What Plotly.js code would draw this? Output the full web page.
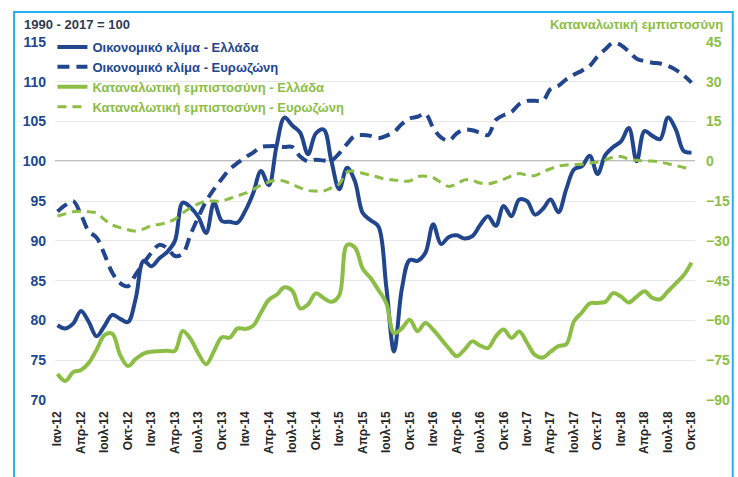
<!DOCTYPE html>
<html>
<head>
<meta charset="utf-8">
<script src="https://cdn.plot.ly/plotly-3.0.1.min.js"></script>
<style>
html,body{margin:0;padding:0;background:#fff;}
#chart{width:738px;height:477px;}
</style>
</head>
<body>
<div id="chart"></div>
<script>
// Monthly data Jan 2012 .. Oct 2018 (82 months)
const monthIndex = Array.from({length: 82}, (_, i) => i);

const tickPositions = [0,3,6,9,12,15,18,21,24,27,30,33,36,39,42,45,48,51,54,57,60,63,66,69,72,75,78,81];
const tickLabels = ['Ιαν-12','Απρ-12','Ιουλ-12','Οκτ-12','Ιαν-13','Απρ-13','Ιουλ-13','Οκτ-13',
  'Ιαν-14','Απρ-14','Ιουλ-14','Οκτ-14','Ιαν-15','Απρ-15','Ιουλ-15','Οκτ-15',
  'Ιαν-16','Απρ-16','Ιουλ-16','Οκτ-16','Ιαν-17','Απρ-17','Ιουλ-17','Οκτ-17',
  'Ιαν-18','Απρ-18','Ιουλ-18','Οκτ-18'];

// Economic sentiment - Greece (left axis)
const esiGreece = [79.4,79.0,79.6,81.2,79.8,78.0,79.3,80.7,80.2,79.8,
  82.8,87.5,86.8,87.8,88.6,90.0,94.8,94.2,93.0,91.0,
  94.8,92.5,92.4,92.3,93.8,96.0,98.8,97.0,102.0,105.5,
  104.5,103.6,100.9,103.5,104.0,100.0,96.5,99.2,97.5,93.5,
  92.6,91.8,84.3,76.1,84.0,87.6,87.5,88.5,92.1,89.6,
  90.5,90.7,90.3,90.6,92.0,93.1,91.9,94.4,93.1,95.2,
  95.0,93.3,94.0,95.2,93.6,96.5,99.0,99.4,100.7,98.4,
  100.8,101.8,102.5,104.2,100.0,103.8,103.2,102.8,105.5,104.0,
  101.3,101.1];

// Economic sentiment - Eurozone (left axis)
const esiEurozone = [93.7,94.5,95.0,93.3,91.2,90.4,88.3,86.0,84.7,84.3,
  85.8,87.2,88.5,89.5,89.1,88.1,88.4,90.8,93.0,95.0,
  96.5,97.8,99.0,99.8,100.5,101.1,101.8,101.9,101.9,101.8,
  101.8,100.6,100.0,100.2,100.1,100.1,101.0,102.2,103.2,103.3,
  103.2,102.9,103.2,103.7,104.7,105.4,105.6,106.0,104.2,103.0,
  102.6,103.5,104.0,103.9,103.6,103.3,105.2,105.8,106.2,107.2,
  107.6,107.6,107.6,109.1,109.5,110.3,110.9,111.4,112.0,113.2,
  114.1,114.9,114.6,113.8,112.9,112.6,112.4,112.3,112.0,111.5,
  110.8,109.9];

// Consumer confidence - Greece (right axis)
const cciGreece = [-80.2,-82.8,-79.5,-78.7,-76.0,-71.0,-65.5,-65.0,-73.0,-77.2,
  -74.5,-72.5,-71.8,-71.6,-71.4,-71.5,-64.0,-67.0,-72.5,-76.5,
  -71.5,-66.3,-66.5,-63.0,-63.2,-62.0,-57.0,-52.2,-50.3,-47.5,
  -48.8,-55.5,-54.0,-49.8,-51.5,-53.0,-50.5,-31.5,-32.5,-40.5,
  -44.0,-48.5,-53.4,-64.8,-63.0,-59.7,-64.0,-61.0,-63.5,-67.0,
  -70.5,-73.5,-71.0,-67.9,-69.5,-70.4,-66.0,-63.4,-66.6,-64.2,
  -68.5,-73.0,-74.0,-71.8,-69.7,-69.0,-60.3,-57.0,-53.6,-53.4,
  -53.0,-49.7,-51.0,-53.2,-51.0,-49.0,-51.5,-52.0,-49.0,-46.0,
  -43.0,-38.2];

// Consumer confidence - Eurozone (right axis)
const cciEurozone = [-20.6,-19.8,-19.0,-18.8,-19.0,-19.5,-22.0,-24.0,-25.0,-25.8,
  -26.3,-25.5,-24.2,-23.8,-23.0,-21.8,-19.5,-17.5,-16.0,-15.0,
  -15.0,-15.0,-14.0,-13.0,-12.0,-10.6,-9.0,-7.8,-7.0,-7.5,
  -8.7,-10.0,-11.0,-11.2,-11.2,-10.0,-8.5,-4.0,-3.7,-4.5,
  -5.2,-6.0,-6.8,-7.0,-7.4,-7.4,-5.8,-5.6,-6.2,-8.0,
  -9.5,-8.5,-7.0,-7.2,-8.2,-8.5,-7.8,-6.8,-5.5,-4.6,
  -5.2,-5.4,-4.0,-2.8,-1.8,-1.4,-1.2,-1.1,-0.6,-0.3,
  0.5,1.6,1.8,0.8,0.4,0.2,0.1,-0.3,-0.9,-1.6,
  -2.3,-2.9];

const leftTicks = [70,75,80,85,90,95,100,105,110,115];
const rightTicks = [-90,-75,-60,-45,-30,-15,0,15,30,45];

const BLUE = '#22468E';
const GREEN = '#8CBE45';
const FONT = 'Liberation Sans, Arial, sans-serif';

const traces = [
  {x: monthIndex, y: esiGreece, type: 'scatter', mode: 'lines', yaxis: 'y',
   name: '<span style="color:' + BLUE + '">Οικονομικό κλίμα - Ελλάδα</span>',
   line: {color: BLUE, width: 4, shape: 'spline', smoothing: 1}},
  {x: monthIndex, y: esiEurozone, type: 'scatter', mode: 'lines', yaxis: 'y',
   name: '<span style="color:' + BLUE + '">Οικονομικό κλίμα - Ευρωζώνη</span>',
   line: {color: BLUE, width: 4, dash: '12px,7px', shape: 'spline', smoothing: 1}},
  {x: monthIndex, y: cciGreece, type: 'scatter', mode: 'lines', yaxis: 'y2',
   name: '<span style="color:' + GREEN + '">Καταναλωτική εμπιστοσύνη - Ελλάδα</span>',
   line: {color: GREEN, width: 4, shape: 'spline', smoothing: 1}},
  {x: monthIndex, y: cciEurozone, type: 'scatter', mode: 'lines', yaxis: 'y2',
   name: '<span style="color:' + GREEN + '">Καταναλωτική εμπιστοσύνη - Ευρωζώνη</span>',
   line: {color: GREEN, width: 3, dash: '9px,6px', shape: 'spline', smoothing: 1}}
];

const layout = {
  width: 738, height: 477,
  margin: {l: 55, r: 43, t: 42, b: 77, pad: 0},
  paper_bgcolor: '#ffffff', plot_bgcolor: '#ffffff',
  font: {family: FONT, size: 13, color: '#333'},
  showlegend: true,
  legend: {x: -0.004, y: 1.028, xanchor: 'left', yanchor: 'top', bgcolor: 'rgba(0,0,0,0)',
    font: {family: FONT, size: 13, weight: 'bold'}, tracegroupgap: 0, itemwidth: 30},
  xaxis: {range: [-0.32, 81.45], tickmode: 'array', tickvals: tickPositions, ticktext: tickLabels,
    tickangle: -90, tickfont: {family: FONT, size: 12, color: '#262626', weight: 'bold'},
    showgrid: false, zeroline: false, showline: false, ticks: '', ticklabelstandoff: 8, fixedrange: true},
  yaxis: {range: [70, 115], tickmode: 'array', tickvals: leftTicks,
    tickfont: {family: FONT, size: 14, color: BLUE, weight: 'bold'},
    showgrid: true, gridcolor: '#E8E8E8', gridwidth: 1, zeroline: false, showline: false,
    ticks: '', ticklabelstandoff: 8},
  yaxis2: {range: [-90, 45], overlaying: 'y', side: 'right', tickmode: 'array', tickvals: rightTicks,
    tickfont: {family: FONT, size: 14, color: GREEN, weight: 'bold'},
    showgrid: false, zeroline: false, showline: false, ticks: '', ticklabelstandoff: 10},
  shapes: [
    {type: 'line', xref: 'paper', x0: 0, x1: 1, yref: 'y', y0: 100, y1: 100,
     line: {color: '#7F7F7F', width: 1.5}, layer: 'below'},
    {type: 'rect', xref: 'paper', yref: 'paper', x0: -0.064, x1: 1.059, y0: -0.25, y1: 1.0838,
     line: {color: '#26B0EE', width: 2}, fillcolor: 'rgba(0,0,0,0)'}
  ],
  annotations: [
    {text: '1990 - 2017 = 100', xref: 'paper', yref: 'paper', x: -0.0516, y: 1.05,
     xanchor: 'left', yanchor: 'middle', showarrow: false,
     font: {family: FONT, size: 13, color: '#2F3B52', weight: 'bold'}},
    {text: 'Καταναλωτική εμπιστοσύνη', xref: 'paper', yref: 'paper', x: 1.0469, y: 1.05,
     xanchor: 'right', yanchor: 'middle', showarrow: false,
     font: {family: FONT, size: 13, color: GREEN, weight: 'bold'}}
  ]
};

Plotly.newPlot('chart', traces, layout, {staticPlot: true, displayModeBar: false});
</script>
</body>
</html>
